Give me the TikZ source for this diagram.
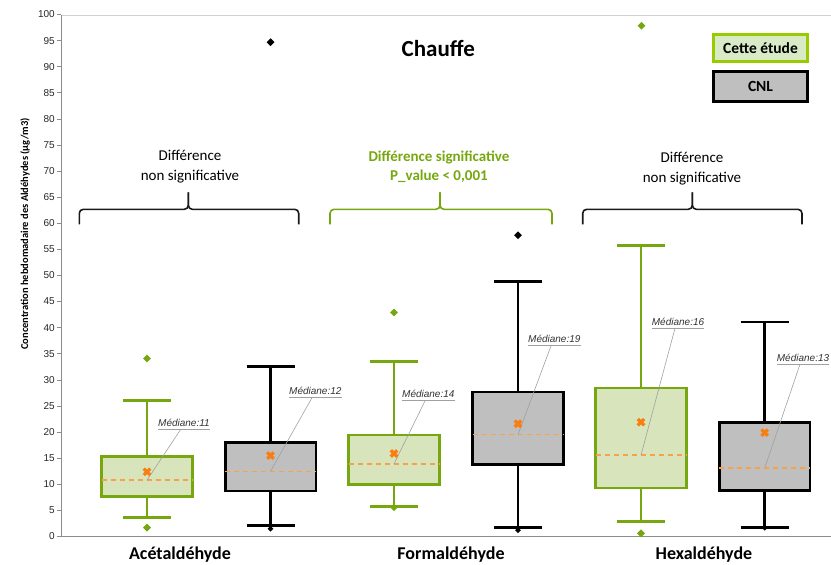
\documentclass[tikz,border=0pt]{standalone}
\usepackage{fontspec}
\setmainfont{Carlito}
\newfontfamily\arialfont{Liberation Sans}
\usetikzlibrary{shapes.geometric}

\definecolor{gline}{HTML}{76A70E}
\definecolor{gfill}{HTML}{D7E4BC}
\definecolor{leggline}{HTML}{99CC00}
\definecolor{leggfill}{HTML}{D8EAC6}
\definecolor{kfill}{HTML}{BFBFBF}
\definecolor{meanorange}{HTML}{FA7D0F}
\definecolor{medorange}{HTML}{F9A04A}
\definecolor{axisgray}{HTML}{8C8C8C}
\definecolor{framegray}{HTML}{D0D0D0}
\definecolor{leadergray}{HTML}{A0A0A0}

% one box plot: #1 name, #2 x, #3 q1, #4 q3, #5 low whisker, #6 high whisker,
% #7 median, #8 mean, #9 series prefix (g = green, k = black)
\newcommand\bxp[9]{%
  \draw[#9whisk] (#2,#3) -- (#2,#5);
  \draw[#9whisk] (#2,#4) -- (#2,#6);
  \draw[#9whisk] ({#2-24},#5) -- ({#2+24},#5);
  \draw[#9whisk] ({#2-24},#6) -- ({#2+24},#6);
  \draw[#9box] ({#2-45.3},#3) rectangle ({#2+45.3},#4);
  \draw[median] ({#2-45.3},#7) -- ({#2+45.3},#7);
  \coordinate (#1-med) at (#2,#7);
  \coordinate (#1-mean) at (#2,#8);
}
\newcommand\meanx[1]{%
  \draw[meanmark] ([shift={(-3.2pt,-3.2pt)}]#1-mean) -- ([shift={(3.2pt,3.2pt)}]#1-mean)
                  ([shift={(-3.2pt,3.2pt)}]#1-mean) -- ([shift={(3.2pt,-3.2pt)}]#1-mean);
}

\begin{document}
\begin{tikzpicture}[x=1pt,y=-1pt,
  gwhisk/.style={draw=gline,line width=2.8pt},
  kwhisk/.style={draw=black,line width=2.8pt},
  gbox/.style={draw=gline,fill=gfill,line width=2.6pt},
  kbox/.style={draw=black,fill=kfill,line width=2.6pt},
  median/.style={draw=medorange,line width=1.3pt,dash pattern=on 5pt off 4pt},
  meanmark/.style={draw=meanorange,line width=3.2pt},
  gout/.style={diamond,fill=gline,inner sep=0pt,minimum size=8pt},
  kout/.style={diamond,fill=black,inner sep=0pt,minimum size=8pt},
  medlab/.style={font=\arialfont\itshape\fontsize{10}{12}\selectfont,text=black!80,
                 inner xsep=0pt,inner ysep=2.5pt,anchor=south west},
  underl/.style={draw=leadergray,line width=0.8pt},
  leader/.style={draw=leadergray,line width=0.6pt},
  axis/.style={draw=axisgray,line width=0.8pt},
  ticklab/.style={font=\arialfont\fontsize{10}{12}\selectfont,text=black!85,anchor=east,inner sep=0pt},
  bracebl/.style={draw=black!90,line width=1.6pt,rounded corners=4pt},
  bracegr/.style={draw=gline,line width=1.6pt,rounded corners=4pt},
  bracetext/.style={align=center,font=\fontsize{15}{20}\selectfont},
  catlab/.style={font=\bfseries\fontsize{18}{20}\selectfont},
  legbox/.style={font=\bfseries\fontsize{15.5}{18}\selectfont,line width=3pt,minimum width=94pt}
]
\useasboundingbox (0,0) rectangle (831,565);

% plot frame
\draw[draw=framegray,line width=0.9pt] (61,15.3) -- (831,15.3);
\draw[axis] (61,15.3) -- (61,536.5) -- (831,536.5);

% axis title
\node[rotate=90,font=\bfseries\fontsize{10.5}{12}\selectfont] (ytitle) at (25,234)
  {Concentration hebdomadaire des Aldéhydes (µg/m3)};

% title and legend
\node[font=\bfseries\fontsize{23}{28}\selectfont] (title) at (438.3,48.3) {Chauffe};
\node[legbox,draw=leggline,fill=leggfill,minimum height=27.6pt] (leg1) at (760.5,48) {Cette étude};
\node[legbox,draw=black,fill=kfill,minimum height=29.7pt] (leg2) at (760.5,86.3) {CNL};

% significance brackets
\coordinate (b1l) at (79.3,224.3);  \coordinate (b1r) at (298.7,224.3); \coordinate (b1t) at (188.3,192.3);
\coordinate (b2l) at (330,224.3);   \coordinate (b2r) at (552,224.3);   \coordinate (b2t) at (440,192.3);
\coordinate (b3l) at (582.7,224.3); \coordinate (b3r) at (802,224.3);   \coordinate (b3t) at (692.3,192.3);
\foreach \b/\s in {b1/bracebl,b2/bracegr,b3/bracebl}{
  \draw[\s] (\b l) -- (\b l |- 0,209.3) -- (\b t |- 0,209.3) -- (\b t);
  \draw[\s] (\b r) -- (\b r |- 0,209.3) -- (\b t |- 0,209.3) -- (\b t);
}
\node[bracetext] (t1) at (190,167) {Différence\\non significative};
\node[bracetext,text=gline,font=\bfseries\fontsize{15}{19}\selectfont] (t2) at (439,166.5)
  {Différence significative\\P\_value < 0,001};
\node[bracetext] (t3) at (692,168.5) {Différence\\non significative};

% category labels
\node[catlab] (cat1) at (180,555) {Acétaldéhyde};
\node[catlab] (cat2) at (451,555) {Formaldéhyde};
\node[catlab] (cat3) at (704,555) {Hexaldéhyde};

% data area: x in pixels, y in µg/m3
\begin{scope}[shift={(0pt,-536.5pt)},y=5.22pt]
  \foreach \v in {0,5,...,100}{
    \draw[axis] (57,\v) -- (61,\v);
    \node[ticklab] at (55,\v) {\v};
  }

  \bxp{ag}{147}{7.7}{15.35}{3.68}{26.0}{10.8}{12.4}{g}
  \bxp{ak}{270.5}{8.75}{18.05}{2.1}{32.5}{12.5}{15.5}{k}
  \bxp{fg}{394}{9.95}{19.45}{5.7}{33.5}{13.9}{15.9}{g}
  \bxp{fk}{518}{13.85}{27.65}{1.76}{48.8}{19.5}{21.6}{k}
  \bxp{hg}{641}{9.3}{28.45}{2.9}{55.8}{15.6}{21.9}{g}
  \bxp{hk}{764.7}{8.85}{21.85}{1.8}{41.1}{13.1}{19.9}{k}

  % outliers
  \node[gout] (ag-o1) at (147,34.1) {};
  \node[gout] (ag-o2) at (147,1.7) {};
  \node[kout] (ak-o1) at (270.5,94.7) {};
  \node[kout,minimum size=6pt] (ak-o2) at (270.5,1.5) {};
  \node[gout] (fg-o1) at (394,42.9) {};
  \node[gout,minimum size=6pt] (fg-o2) at (394,5.4) {};
  \node[kout] (fk-o1) at (518,57.7) {};
  \node[kout,minimum size=6pt] (fk-o2) at (518,1.2) {};
  \node[gout] (hg-o1) at (641.5,97.85) {};
  \node[gout] (hg-o2) at (641,0.6) {};
  \node[kout,minimum size=6pt] (hk-o1) at (764.7,1.7) {};

  % median callouts
  \node[medlab] (ag-lab) at (158,20.6) {Médiane:11};
  \node[medlab] (ak-lab) at (289,26.7) {Médiane:12};
  \node[medlab] (fg-lab) at (402,26.1) {Médiane:14};
  \node[medlab] (fk-lab) at (528,36.7) {Médiane:19};
  \node[medlab] (hg-lab) at (651.7,39.9) {Médiane:16};
  \node[medlab] (hk-lab) at (776.7,33.0) {Médiane:13};
  \foreach \n in {ag,ak,fg,fk,hg,hk}{
    \draw[underl] (\n-lab.south west) -- (\n-lab.south east);
    \draw[leader] ([xshift=-3pt]\n-lab.south) -- (\n-med);
    \meanx{\n}
  }
\end{scope}
\end{tikzpicture}
\end{document}
